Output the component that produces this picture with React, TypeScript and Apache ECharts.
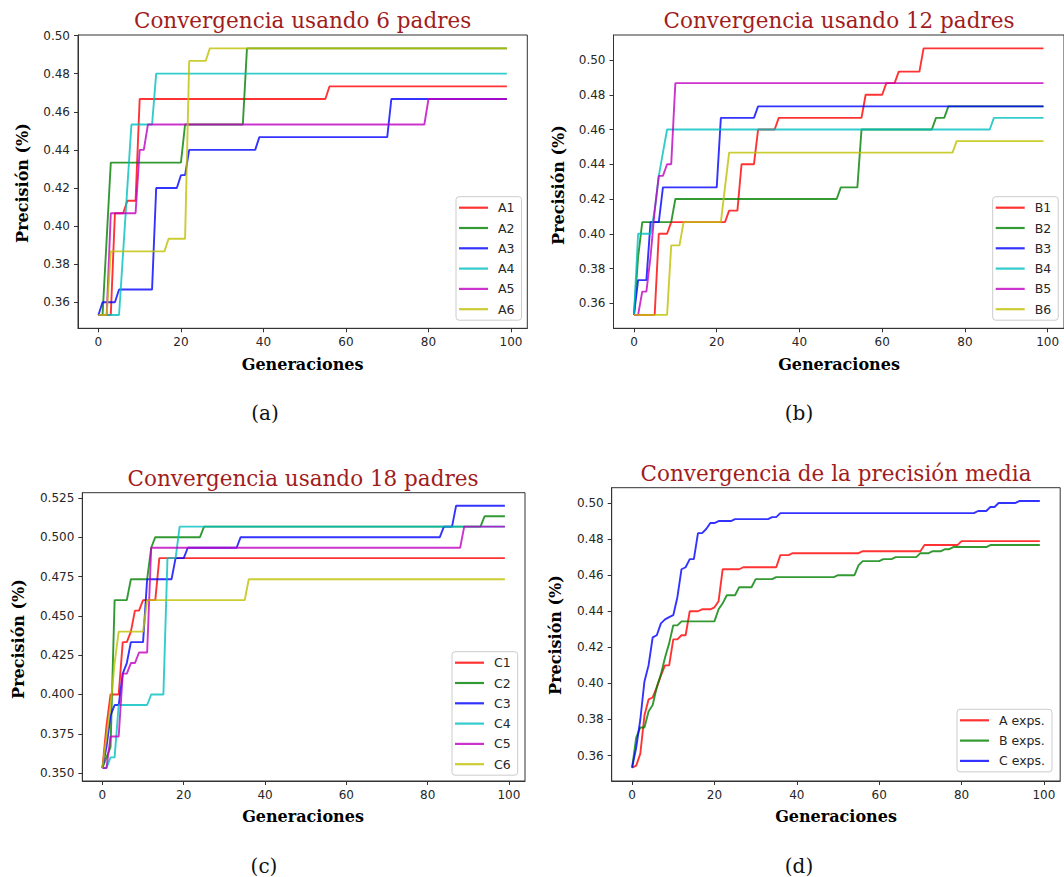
import React, { useEffect, useRef } from 'react';
import * as echarts from 'echarts';

// ---------- data ----------
const xTicks = [0, 20, 40, 60, 80, 100];
const yTicksA = [0.36, 0.38, 0.40, 0.42, 0.44, 0.46, 0.48, 0.50];
const yTicksB = [0.36, 0.38, 0.40, 0.42, 0.44, 0.46, 0.48, 0.50];
const yTicksC = [0.350, 0.375, 0.400, 0.425, 0.450, 0.475, 0.500, 0.525];
const yTicksD = [0.36, 0.38, 0.40, 0.42, 0.44, 0.46, 0.48, 0.50];

const namesA = ['A1', 'A2', 'A3', 'A4', 'A5', 'A6'];
const namesB = ['B1', 'B2', 'B3', 'B4', 'B5', 'B6'];
const namesC = ['C1', 'C2', 'C3', 'C4', 'C5', 'C6'];
const namesD = ['A exps.', 'B exps.', 'C exps.'];

const titles = [
  'Convergencia usando 6 padres',
  'Convergencia usando 12 padres',
  'Convergencia usando 18 padres',
  'Convergencia de la precisión media',
];
const captions = ['(a)', '(b)', '(c)', '(d)'];
const xLabel = 'Generaciones';
const yLabel = 'Precisión (%)';

// [generation, precision] at each change of the curve
const A1 = [[0, .3533], [3, .3533], [4, .4067], [6, .4067], [7, .4133], [9, .4133], [10, .4667], [55, .4667], [56, .4733], [99, .4733]];
const A2 = [[0, .3533], [1, .3533], [2, .3933], [3, .4333], [20, .4333], [21, .4533], [35, .4533], [36, .4933], [99, .4933]];
const A3 = [[0, .3533], [1, .36], [4, .36], [5, .3667], [13, .3667], [14, .42], [19, .42], [20, .4267], [21, .4267], [22, .44], [38, .44], [39, .4467], [70, .4467], [71, .4667], [99, .4667]];
const A4 = [[0, .3533], [5, .3533], [6, .3867], [7, .42], [8, .4533], [13, .4533], [14, .48], [99, .48]];
const A5 = [[0, .3533], [2, .3533], [3, .4067], [9, .4067], [10, .44], [11, .44], [12, .4533], [79, .4533], [80, .4667], [99, .4667]];
const A6 = [[0, .3533], [2, .3533], [3, .3867], [16, .3867], [17, .3933], [21, .3933], [22, .4867], [26, .4867], [27, .4933], [99, .4933]];

const B1 = [[0, .3533], [5, .3533], [6, .40], [8, .40], [9, .4067], [22, .4067], [23, .4133], [25, .4133], [26, .44], [29, .44], [30, .46], [34, .46], [35, .4667], [55, .4667], [56, .48], [60, .48], [61, .4867], [63, .4867], [64, .4933], [69, .4933], [70, .5067], [99, .5067]];
const B2 = [[0, .3533], [1, .3867], [2, .4067], [9, .4067], [10, .42], [49, .42], [50, .4267], [54, .4267], [55, .46], [72, .46], [73, .4667], [75, .4667], [76, .4733], [99, .4733]];
const B3 = [[0, .3533], [1, .3733], [3, .3733], [4, .4067], [6, .4067], [7, .4267], [20, .4267], [21, .4667], [29, .4667], [30, .4733], [99, .4733]];
const B4 = [[0, .3533], [1, .40], [4, .40], [5, .4133], [6, .4333], [7, .4467], [8, .46], [86, .46], [87, .4667], [99, .4667]];
const B5 = [[0, .3533], [1, .3533], [2, .3667], [3, .3667], [4, .3867], [5, .4133], [6, .4333], [7, .4333], [8, .44], [9, .44], [10, .4867], [99, .4867]];
const B6 = [[0, .3533], [8, .3533], [9, .3933], [11, .3933], [12, .4067], [21, .4067], [22, .4267], [23, .4467], [77, .4467], [78, .4533], [99, .4533]];

const C1 = [[0, .3533], [1, .38], [2, .40], [4, .40], [5, .4333], [6, .4333], [7, .44], [8, .4533], [9, .4533], [10, .46], [13, .46], [14, .4867], [99, .4867]];
const C2 = [[0, .3533], [1, .36], [2, .3667], [3, .46], [6, .46], [7, .4733], [11, .4733], [12, .4933], [13, .50], [24, .50], [25, .5067], [93, .5067], [94, .5133], [99, .5133]];
const C3 = [[0, .3533], [1, .3667], [2, .3867], [3, .3933], [4, .3933], [5, .4133], [6, .42], [7, .4333], [10, .4333], [11, .4733], [17, .4733], [18, .4867], [20, .4867], [21, .4933], [33, .4933], [34, .50], [83, .50], [84, .5067], [86, .5067], [87, .52], [99, .52]];
const C4 = [[0, .3533], [1, .3533], [2, .36], [3, .36], [4, .3933], [11, .3933], [12, .40], [15, .40], [16, .4867], [18, .4867], [19, .5067], [99, .5067]];
const C5 = [[0, .3533], [1, .3533], [2, .3733], [4, .3733], [5, .4133], [6, .4133], [7, .42], [8, .42], [9, .4267], [11, .4267], [12, .4933], [88, .4933], [89, .5067], [99, .5067]];
const C6 = [[0, .3533], [1, .3733], [2, .3933], [3, .42], [4, .44], [10, .44], [11, .46], [35, .46], [36, .4733], [99, .4733]];

const meanA = [[0, .3533], [1, .3544], [2, .3611], [3, .3822], [4, .3911], [5, .3922], [6, .3978], [7, .4044], [8, .41], [9, .41], [10, .4244], [11, .4244], [12, .4267], [13, .4267], [14, .44], [16, .44], [17, .4411], [19, .4411], [20, .4422], [21, .4456], [22, .4633], [26, .4633], [27, .4644], [35, .4644], [36, .4711], [38, .4711], [39, .4722], [55, .4722], [56, .4733], [70, .4733], [71, .4767], [79, .4767], [80, .4789], [99, .4789]];
const meanB = [[0, .3533], [1, .37], [2, .3756], [3, .3756], [4, .3844], [5, .388], [6, .398], [7, .405], [8, .4144], [9, .4222], [10, .4322], [11, .4322], [12, .4344], [20, .4344], [21, .4411], [22, .4444], [23, .4489], [25, .4489], [26, .4533], [29, .4533], [30, .4578], [34, .4578], [35, .4589], [49, .4589], [50, .46], [54, .46], [55, .4656], [56, .4678], [60, .4678], [61, .4689], [63, .4689], [64, .47], [69, .47], [70, .4722], [72, .4722], [73, .4733], [75, .4733], [76, .4744], [77, .4744], [78, .4756], [86, .4756], [87, .4767], [99, .4767]];
const meanC = [[0, .3533], [1, .3644], [2, .38], [3, .4011], [4, .41], [5, .4255], [6, .4267], [7, .4333], [8, .4355], [9, .4367], [10, .4378], [11, .4478], [12, .4633], [13, .4644], [14, .4689], [15, .4689], [16, .4833], [17, .4833], [18, .4856], [19, .4889], [20, .4889], [21, .49], [24, .49], [25, .4911], [33, .4911], [34, .4922], [35, .4922], [36, .4944], [83, .4944], [84, .4956], [86, .4956], [87, .4978], [88, .4978], [89, .50], [93, .50], [94, .5011], [99, .5011]];

// ---------- styling / layout ----------
const lineColors = [
  'rgba(255,0,0,0.8)',
  'rgba(0,128,0,0.8)',
  'rgba(0,0,255,0.8)',
  'rgba(0,191,191,0.8)',
  'rgba(191,0,191,0.8)',
  'rgba(191,191,0,0.8)',
];
const TITLE_COLOR = '#a11d1d';
const SERIF = '"DejaVu Serif", serif';
const SANS = '"DejaVu Sans", sans-serif';

const panels = [
  {
    grid: { left: 78, top: 35, width: 449.3, height: 293.3 },
    yMin: 0.3463, yMax: 0.5003, yTicks: yTicksA, dec: 2,
    names: namesA, data: [A1, A2, A3, A4, A5, A6],
    titleXY: [302.6, 20], xNameXY: [302.6, 364], yNameXY: [22, 183], capXY: [265, 412.5],
    legend: { left: 456, top: 196.7 },
  },
  {
    grid: { left: 613.5, top: 35, width: 451, height: 293.3 },
    yMin: 0.3456, yMax: 0.5144, yTicks: yTicksB, dec: 2,
    names: namesB, data: [B1, B2, B3, B4, B5, B6],
    titleXY: [839, 20], xNameXY: [839, 364], yNameXY: [558, 185], capXY: [799, 412.5],
    legend: { left: 992.7, top: 196.7 },
  },
  {
    grid: { left: 82.3, top: 492.7, width: 442.7, height: 288.3 },
    yMin: 0.3450, yMax: 0.5283, yTicks: yTicksC, dec: 3,
    names: namesC, data: [C1, C2, C3, C4, C5, C6],
    titleXY: [303, 478], xNameXY: [303, 816.5], yNameXY: [18.6, 639], capXY: [264, 865.5],
    legend: { left: 452, top: 651.7 },
  },
  {
    grid: { left: 611.7, top: 487.7, width: 448.5, height: 293.3 },
    yMin: 0.3459, yMax: 0.5085, yTicks: yTicksD, dec: 2,
    names: namesD, data: [meanA, meanB, meanC],
    titleXY: [836, 473], xNameXY: [836, 816], yNameXY: [555.4, 635], capXY: [799, 865.5],
    legend: { left: 957, top: 709.3 },
  },
];

function buildOption() {
  const grid: any[] = [];
  const xAxis: any[] = [];
  const yAxis: any[] = [];
  const series: any[] = [];
  const legend: any[] = [];
  const graphic: any[] = [];

  panels.forEach((p, i) => {
    grid.push({
      ...p.grid,
      show: true,
      borderColor: '#333',
      borderWidth: 1,
      backgroundColor: 'transparent',
      containLabel: false,
    });
    xAxis.push({
      gridIndex: i,
      type: 'value',
      min: -4.95,
      max: 103.95,
      axisLine: { show: true, onZero: false, lineStyle: { color: '#333', width: 1 } },
      axisTick: { show: true, inside: false, length: 4, customValues: xTicks, lineStyle: { color: '#333' } },
      axisLabel: {
        customValues: xTicks,
        fontFamily: SANS,
        fontSize: 12,
        color: '#262626',
        margin: 8,
        formatter: (v: number) => String(Math.round(v)),
      },
      splitLine: { show: false },
    });
    yAxis.push({
      gridIndex: i,
      type: 'value',
      min: p.yMin,
      max: p.yMax,
      axisLine: { show: true, onZero: false, lineStyle: { color: '#333', width: 1 } },
      axisTick: { show: true, inside: false, length: 4, customValues: p.yTicks, lineStyle: { color: '#333' } },
      axisLabel: {
        customValues: p.yTicks,
        fontFamily: SANS,
        fontSize: 12,
        color: '#262626',
        margin: 8,
        formatter: (v: number) => v.toFixed(p.dec),
      },
      splitLine: { show: false },
    });
    p.data.forEach((d, j) => {
      series.push({
        type: 'line',
        name: p.names[j],
        data: d,
        xAxisIndex: i,
        yAxisIndex: i,
        symbol: 'none',
        showSymbol: false,
        clip: true,
        lineStyle: { width: 1.9, color: lineColors[j] },
        itemStyle: { color: lineColors[j] },
        emphasis: { disabled: true },
      });
    });
    legend.push({
      data: p.names,
      left: p.legend.left,
      top: p.legend.top,
      orient: 'vertical',
      icon: 'rect',
      itemWidth: 29,
      itemHeight: 2.2,
      itemGap: 6.3,
      padding: [4, 7, 4, 3],
      backgroundColor: 'rgba(255,255,255,0.8)',
      borderColor: '#cccccc',
      borderWidth: 1,
      borderRadius: 3,
      selectedMode: false,
      textStyle: {
        fontFamily: SANS,
        fontSize: 12.5,
        color: '#262626',
        lineHeight: 14,
        padding: [0, 0, 0, 5],
      },
    });
    graphic.push({
      type: 'text',
      x: p.titleXY[0],
      y: p.titleXY[1],
      style: {
        text: titles[i],
        fontFamily: SERIF,
        fontSize: 21.5,
        fill: TITLE_COLOR,
        align: 'center',
        verticalAlign: 'middle',
      },
    });
    graphic.push({
      type: 'text',
      x: p.xNameXY[0],
      y: p.xNameXY[1],
      style: {
        text: xLabel,
        fontFamily: SERIF,
        fontWeight: 'bold',
        fontSize: 16,
        fill: '#000',
        align: 'center',
        verticalAlign: 'middle',
      },
    });
    graphic.push({
      type: 'text',
      x: p.yNameXY[0],
      y: p.yNameXY[1],
      rotation: Math.PI / 2,
      style: {
        text: yLabel,
        fontFamily: SERIF,
        fontWeight: 'bold',
        fontSize: 16,
        fill: '#000',
        align: 'center',
        verticalAlign: 'middle',
      },
    });
    graphic.push({
      type: 'text',
      x: p.capXY[0],
      y: p.capXY[1],
      style: {
        text: captions[i],
        fontFamily: SERIF,
        fontSize: 20,
        fill: '#111',
        align: 'center',
        verticalAlign: 'middle',
      },
    });
  });

  return {
    animation: false,
    backgroundColor: '#ffffff',
    grid,
    xAxis,
    yAxis,
    series,
    legend,
    graphic,
  };
}

export default function App() {
  const ref = useRef<HTMLDivElement>(null);
  useEffect(() => {
    if (!ref.current) return;
    const chart = echarts.init(ref.current, undefined, { renderer: 'svg' });
    chart.setOption(buildOption() as any);
    return () => chart.dispose();
  }, []);
  return (
    <div
      ref={ref}
      style={{ position: 'absolute', left: 0, top: 0, width: 1064, height: 877, background: '#fff' }}
    />
  );
}
